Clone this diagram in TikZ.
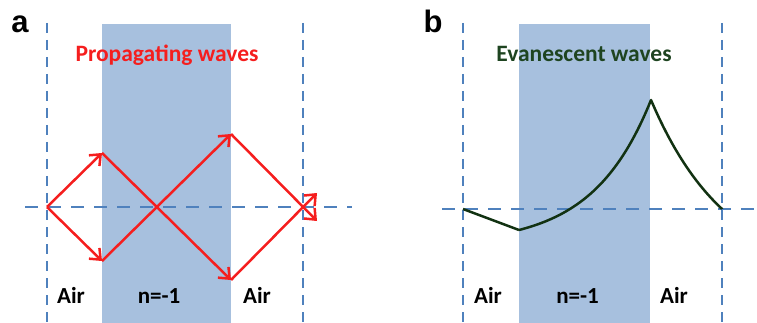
\documentclass[tikz,border=0pt]{standalone}
\usepackage{fontspec}
\setmainfont{Carlito}
\newfontfamily\labfont{Liberation Sans}
\usetikzlibrary{arrows.meta}
\definecolor{slab}{HTML}{A7C0DE}
\definecolor{dashblue}{HTML}{4F81BD}
\definecolor{wred}{HTML}{F51E1E}
\definecolor{wgreen}{HTML}{1E4420}
\definecolor{cgreen}{HTML}{123212}
\tikzset{
  vdash/.style={dashblue, line width=2.5pt, dash pattern=on 10pt off 7pt},
  hdash/.style={dashblue, line width=2.5pt, dash pattern=on 13pt off 10pt},
  ray/.style={wred, line width=2.5pt, -{Straight Barb[length=9pt,width=15pt,line width=2.5pt]}},
  lbl/.style={font=\bfseries\fontsize{23}{23}\selectfont, anchor=base, inner sep=0pt},
  ttl/.style={font=\bfseries\fontsize{23.5}{23.5}\selectfont, anchor=base, inner sep=0pt},
  panel/.style={font=\labfont\bfseries\fontsize{31}{31}\selectfont, anchor=base, inner sep=0pt}
}
\begin{document}
\begin{tikzpicture}[x=1pt,y=-1pt]
\useasboundingbox (0,0) rectangle (757,323);
% ---------- panel a ----------
\fill[slab] (102,24) rectangle (231,323);
\draw[vdash] (47,23) -- (47,323);
\draw[vdash] (303,23) -- (303,323);
\draw[hdash] (25,207) -- (352,207);
\node[panel] (pa) at (20,33) {a};
\node[ttl, text=wred] (ta) at (167,62) {Propagating waves};
\node[lbl] (air1) at (71,303) {Air};
\node[lbl] (n1) at (159,303) {n=-1};
\node[lbl] (air2) at (257,303) {Air};
\coordinate (O) at (47,207);
\coordinate (A) at (102,153);
\coordinate (B) at (102,261);
\coordinate (C) at (231,280);
\coordinate (D) at (231,134);
\coordinate (E1) at (317,221);
\coordinate (E2) at (317,193);
\draw[ray] (O) -- (A);
\draw[ray] (O) -- (B);
\draw[ray] (A) -- (C);
\draw[ray] (B) -- (D);
\draw[ray] (D) -- (E1);
\draw[ray] (C) -- (E2);
% ---------- panel b ----------
\fill[slab] (519,24) rectangle (650,323);
\draw[vdash] (463,23) -- (463,323);
\draw[vdash] (722,23) -- (722,323);
\draw[hdash] (442,209) -- (757,209);
\node[panel] (pb) at (433,33) {b};
\node[ttl, text=wgreen] (tb) at (584,62) {Evanescent waves};
\node[lbl] (air3) at (488,303) {Air};
\node[lbl] (n2) at (577.5,303) {n=-1};
\node[lbl] (air4) at (674,303) {Air};
\coordinate (P0) at (463,209);
\coordinate (P1) at (519,230);
\coordinate (P2) at (651,100);
\coordinate (P3) at (722,209);
\draw[cgreen, line width=2.5pt, line join=round]
  (P0) -- (P1)
  plot[domain=519:651, samples=60, variable=\t] ({\t},{209-(14.98*exp(0.0172*(\t-519))-35.98)})
  -- (P2)
  plot[domain=651:722, samples=40, variable=\t] ({\t},{209-(180.8*exp(-0.013*(\t-651))-71.8)})
  -- (P3);
\end{tikzpicture}
\end{document}
